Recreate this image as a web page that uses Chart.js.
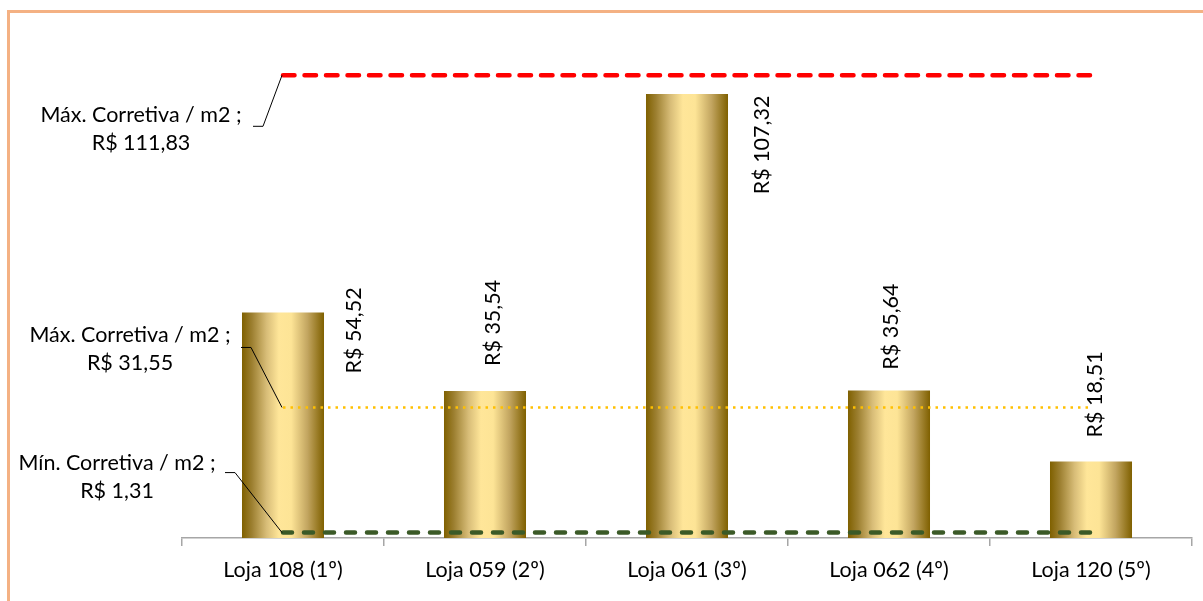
<!DOCTYPE html>
<html>
<head>
<meta charset="utf-8">
<script src="https://cdn.jsdelivr.net/npm/chart.js@4.4.1/dist/chart.umd.min.js"></script>
<style>
  html, body { margin: 0; padding: 0; background: #fff; overflow: hidden; }
  #wrap { position: relative; width: 1203px; height: 601px; overflow: hidden; }
  #frame { position: absolute; left: 7px; top: 10px; width: 1300px; height: 700px; border: 3px solid #f4b183; }
  #chart { position: absolute; left: 0; top: 0; }
</style>
</head>
<body>
<div id="wrap">
  <div id="frame"></div>
  <canvas id="chart" width="1203" height="601"></canvas>
</div>
<script>
const categories = ["Loja 108 (1º)", "Loja 059 (2º)", "Loja 061 (3º)", "Loja 062 (4º)", "Loja 120 (5º)"];
const correctivaM2 = [54.52, 35.54, 107.32, 35.64, 18.51];

// reference lines: top max, max, min
const refNames = ["Máx. Corretiva / m2", "Máx. Corretiva / m2", "Mín. Corretiva / m2"];
const refValues = [111.83, 31.55, 1.31];

const FONT = "Lato";
const FONT_SIZE = 21.5;
const BAR_PCT = 0.406;

function brl(v){
  return "R$ " + v.toFixed(2).replace(".", ",");
}

function goldFill(ctx){
  const chart = ctx.chart;
  const xs = chart.scales.x;
  if(!chart.chartArea || !xs) return "#d9bc6a";
  const cx = xs.getPixelForValue(ctx.dataIndex);
  const half = (xs.width / categories.length) * BAR_PCT / 2;
  const g = chart.ctx.createLinearGradient(cx - half, 0, cx + half, 0);
  g.addColorStop(0, "#7f6000");
  g.addColorStop(0.12, "#9c7f30");
  g.addColorStop(0.3, "#d8bd78");
  g.addColorStop(0.45, "#ffe699");
  g.addColorStop(0.6, "#fde496");
  g.addColorStop(0.8, "#c2a560");
  g.addColorStop(1, "#7f6000");
  return g;
}

// where each rotated value label sits, relative to bar centre / bar top
const barLabelShift = [[71, 18], [8, -68], [75, 51], [2, -64], [4, -67]];
// text centre and leader-line elbow relative to the first point of each ref line
const refLabelShift = [
  { tx: -142, ty: 40, lx: -30, ly: 51 },
  { tx: -153, ty: -72, lx: -42, ly: -60 },
  { tx: -166, ty: -70, lx: -58, ly: -60 }
];

const labelsPlugin = {
  id: "labels",
  afterDatasetsDraw(chart){
    const c = chart.ctx;
    const xs = chart.scales.x, ys = chart.scales.y;
    c.save();
    c.fillStyle = "#000";
    c.font = `${FONT_SIZE}px ${FONT}`;
    c.textAlign = "center";
    c.textBaseline = "middle";

    const bars = chart.getDatasetMeta(0).data;
    bars.forEach((b, i) => {
      const [dx, dy] = barLabelShift[i];
      c.save();
      c.translate(b.x + dx, b.y + dy);
      c.rotate(-Math.PI / 2);
      c.fillText(brl(correctivaM2[i]), 0, 0);
      c.restore();
    });

    refValues.forEach((v, i) => {
      const px = xs.getPixelForValue(0);
      const py = ys.getPixelForValue(v);
      const s = refLabelShift[i];
      c.fillText(refNames[i] + " ;", px + s.tx, py + s.ty);
      c.fillText(brl(v), px + s.tx, py + s.ty + 28);
      c.strokeStyle = "#000";
      c.lineWidth = 1;
      c.beginPath();
      c.moveTo(px + s.lx, py + s.ly);
      c.lineTo(px + s.lx + 10, py + s.ly);
      c.lineTo(px - 1, py);
      c.stroke();
    });
    c.restore();
  }
};

function refLine(v, color, width, dash, cap){
  return {
    type: "line",
    data: categories.map(() => v),
    borderColor: color,
    borderWidth: width,
    borderDash: dash,
    borderCapStyle: cap,
    pointRadius: 0,
    fill: false,
    order: 1
  };
}

new Chart(document.getElementById("chart"), {
  type: "bar",
  data: {
    labels: categories,
    datasets: [
      {
        data: correctivaM2,
        backgroundColor: goldFill,
        borderWidth: 0,
        barPercentage: BAR_PCT,
        categoryPercentage: 1,
        order: 2
      },
      refLine(refValues[0], "#ff0000", 4.5, [11.5, 10], "round"),
      refLine(refValues[1], "#ffc000", 2.5, [2.5, 5], "butt"),
      refLine(refValues[2], "#3b5a27", 4.5, [9, 12], "round")
    ]
  },
  options: {
    responsive: false,
    animation: false,
    layout: { padding: { top: 41.5, left: 182, right: 11, bottom: 0 } },
    plugins: { legend: { display: false }, tooltip: { enabled: false } },
    scales: {
      y: { display: false, min: 0, max: 120 },
      x: {
        offset: true,
        grid: { offset: true, drawOnChartArea: false, tickLength: 8, color: "#a6a6a6", lineWidth: 1.5 },
        border: { color: "#a6a6a6", width: 1.5 },
        ticks: { color: "#000", font: { family: FONT, size: FONT_SIZE }, padding: 11 },
        afterFit(scale){ scale.height = 63; }
      }
    }
  },
  plugins: [labelsPlugin]
});
</script>
</body>
</html>
